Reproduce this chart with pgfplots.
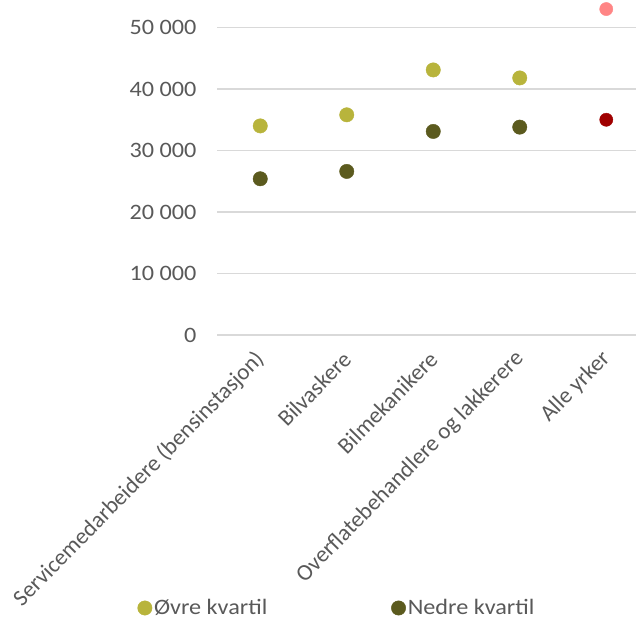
\documentclass[border=0pt]{standalone}
\usepackage{fontspec}
\setmainfont{Carlito}
\newfontfamily\stretched{Carlito}[FakeStretch=1.1]
\usepackage{pgfplots}
\pgfplotsset{compat=1.18}
\definecolor{upper}{HTML}{B8B43C}
\definecolor{lower}{HTML}{5B5A1E}
\definecolor{allup}{HTML}{FF8585}
\definecolor{alllow}{HTML}{A00000}
\definecolor{txt}{HTML}{595959}
\definecolor{gridc}{HTML}{D9D9D9}
\begin{document}
\begin{tikzpicture}
\useasboundingbox (0,0) rectangle (636pt,621pt);
\begin{axis}[
  at={(217pt,286pt)}, anchor=south west,
  scale only axis, width=419pt, height=332.1pt,
  xmin=-0.5, xmax=4.344, ymin=0, ymax=54000,
  clip=false,
  axis line style={draw=none},
  major tick length=0pt,
  ymajorgrids, grid style={gridc, line width=1.4pt},
  ytick={0,10000,20000,30000,40000,50000},
  scaled y ticks=false,
  /pgf/number format/.cd, 1000 sep={\ }, assume math mode=true, /pgfplots/.cd,
  yticklabel style={font=\stretched\fontsize{22}{26}\selectfont, text=txt, xshift=-17pt},
  xtick={0,1,2,3,4},
  xticklabels={Servicemedarbeidere (bensinstasjon), Bilvaskere, Bilmekanikere, Overflatebehandlere og lakkerere, Alle yrker},
  xticklabel style={rotate=45.5, anchor=east, font=\fontsize{23}{28}\selectfont, text=txt, xshift=-11pt, yshift=-14.6pt},
  legend columns=2,
  legend style={at={(0.2865,-0.822)}, anchor=center, draw=none, fill=none,
    font=\stretched\fontsize{22}{26}\selectfont, text=txt,
    /tikz/every even column/.append style={column sep=122pt}},
]
\addplot[only marks, mark=*, mark size=7.2pt, color=upper] coordinates {(0,34000) (1,35800) (2,43100) (3,41800)};
\addlegendentry{Øvre kvartil}
\addplot[only marks, mark=*, mark size=7.2pt, color=lower] coordinates {(0,25400) (1,26600) (2,33100) (3,33800)};
\addlegendentry{Nedre kvartil}
\addplot[only marks, mark=*, mark size=6.6pt, color=allup, forget plot] coordinates {(4,53000)};
\addplot[only marks, mark=*, mark size=6.6pt, color=alllow, forget plot] coordinates {(4,35000)};
\end{axis}
\end{tikzpicture}
\end{document}
